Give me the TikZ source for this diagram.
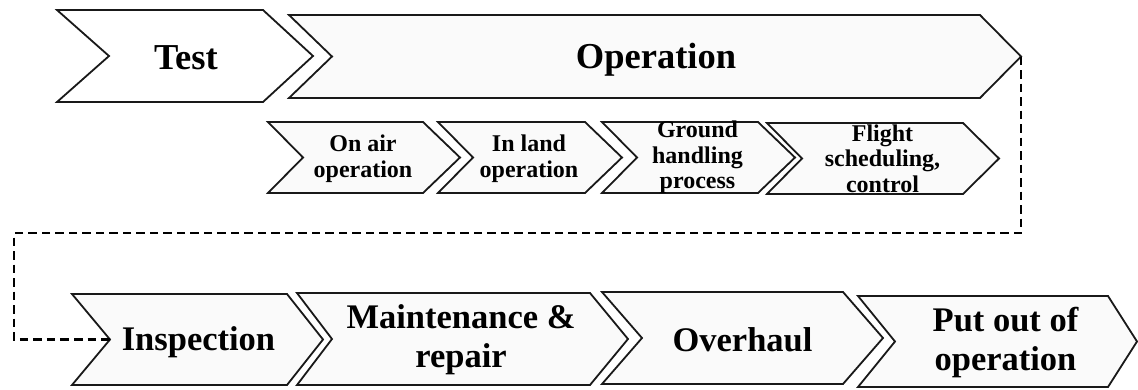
\documentclass[tikz,border=0pt]{standalone}
\usepackage{fontspec}
\setmainfont{Liberation Serif}
\tikzset{
  chev/.style={draw=black!90, line width=1.8pt, line join=miter},
  big/.style={font=\fontsize{36.5}{40}\selectfont\bfseries, align=center, inner sep=0pt},
  mid/.style={font=\fontsize{34.5}{39}\selectfont\bfseries, align=center, inner sep=0pt},
  small/.style={font=\fontsize{24}{25.5}\selectfont\bfseries, align=center, inner sep=0pt},
  conn/.style={draw=black, line width=2.1pt, dash pattern=on 8.5pt off 5pt}
}
% #1 name, #2 left, #3 notch x, #4 shoulder x, #5 tip x, #6 top, #7 bottom, #8 fill
\newcommand\chevshape[8]{%
  \draw[chev, fill=#8] (#2,#6) -- (#4,#6) -- (#5,{(#6+#7)/2}) -- (#4,#7)
    -- (#2,#7) -- (#3,{(#6+#7)/2}) -- cycle;
  \coordinate (#1-tip) at (#5,{(#6+#7)/2});
  \coordinate (#1-notch) at (#3,{(#6+#7)/2});
  \coordinate (#1-c) at ({(#3+#4)/2},{(#6+#7)/2});
}
\begin{document}
\begin{tikzpicture}[x=1pt, y=-1pt]
\useasboundingbox (0,0) rectangle (1138,389);

% top row
\chevshape{test}{57}{109}{263}{313}{10}{102}{white}
\chevshape{op}{289}{332}{980}{1021}{15}{98}{black!2}
\node[big] (testL) at ([yshift=-2pt]test-c) {Test};
\node[big] (opL) at ([yshift=-3pt]op-c) {Operation};

% operation sub-steps
\chevshape{s1}{268}{303}{423}{460}{122}{193}{black!2}
\chevshape{s2}{438}{473}{585}{622}{122}{193}{black!2}
\chevshape{s3}{602}{637}{758}{795}{122}{193}{black!2}
\chevshape{s4}{767}{802}{963}{999}{123}{194}{black!2}
\node[small] (s1L) at ([yshift=-1pt]s1-c) {On air\\operation};
\node[small] (s2L) at ([yshift=-1pt]s2-c) {In land\\operation};
\node[small] (s3L) at ([yshift=0pt]s3-c) {Ground\\handling\\process};
\node[small] (s4L) at ([yshift=0pt]s4-c) {Flight\\scheduling,\\control};

% bottom row
\chevshape{insp}{72}{110}{287}{323}{294}{385}{black!2}
\chevshape{mr}{297}{332}{590}{628}{293}{385}{black!2}
\chevshape{ov}{602}{642}{843}{883}{292}{384}{black!2}
\chevshape{po}{858}{895}{1108}{1137}{296}{387}{black!2}
\node[mid] (inspL) at ([yshift=-3pt]insp-c) {Inspection};
\node[mid] (mrL) at ([yshift=-1pt]mr-c) {Maintenance \&\\repair};
\node[mid] (ovL) at ([yshift=-2pt]ov-c) {Overhaul};
\node[mid] (poL) at ([xshift=4pt, yshift=-1pt]po-c) {Put out of\\operation};

% dashed link from operation to inspection
\coordinate (bend) at (14,233);
\draw[conn] (op-tip) |- (bend) |- (insp-notch);
\end{tikzpicture}
\end{document}
